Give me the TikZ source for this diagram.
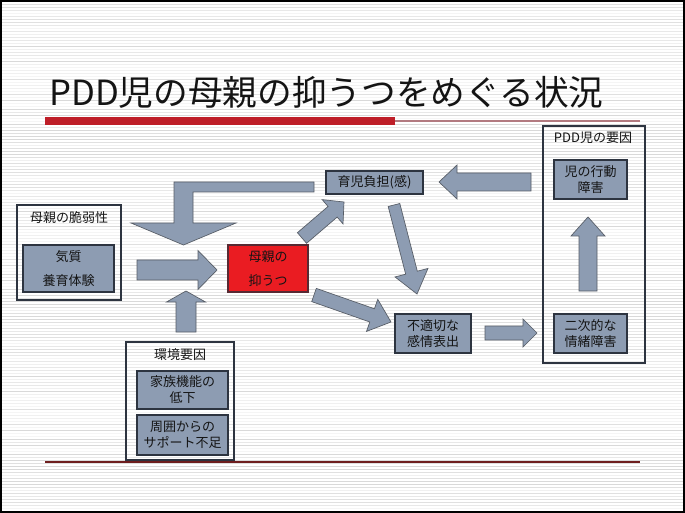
\documentclass[tikz,border=0pt]{standalone}
\usepackage{fontspec}
\setmainfont{Noto Sans CJK JP}
\usetikzlibrary{calc}

\definecolor{boxfill}{RGB}{141,156,178}
\definecolor{edgecol}{RGB}{45,52,64}
\definecolor{redfill}{RGB}{234,28,34}
\definecolor{titlered}{RGB}{190,30,40}
\definecolor{thinred}{RGB}{178,122,128}
\definecolor{linered}{RGB}{110,30,30}
\definecolor{txt}{RGB}{20,20,20}

\tikzset{
  smallfont/.style={font=\fontsize{9.75pt}{12pt}\selectfont, text=txt},
  container/.style={draw=edgecol, line width=0.9pt, rectangle, inner sep=0pt},
  inbox/.style={draw=edgecol, line width=1pt, fill=boxfill, rectangle, inner sep=0pt, align=center, smallfont},
  redbox/.style={draw=edgecol!80!red, line width=1pt, fill=redfill, rectangle, inner sep=0pt, align=center, smallfont},
  boxlabel/.style={smallfont, inner sep=0pt},
  blockarrow/.style={fill=boxfill, draw=edgecol!80, line width=0.5pt, line join=miter}
}

% #1 start, #2 tip, #3 shaft half width, #4 head half width, #5 head length
\newcommand\blockarr[5]{%
  \coordinate (#2-base) at ($(#2)!#5!(#1)$);
  \draw[blockarrow] ($(#1)!#3!90:(#2)$) -- ($(#2-base)!#3!90:(#2)$) -- ($(#2-base)!#4!90:(#2)$)
    -- (#2) -- ($(#2-base)!#4!-90:(#2)$) -- ($(#2-base)!#3!-90:(#2)$) -- ($(#1)!#3!-90:(#2)$) -- cycle;
}

\begin{document}
\begin{tikzpicture}[x=0.75pt, y=-0.75pt]
\useasboundingbox (0,0) rectangle (685,513);
\fill[white] (0,0) rectangle (685,513);
% striped background
\foreach \i in {0,...,170} {
  \pgfmathtruncatemacro\m{mod(\i*7+mod(\i,11)*mod(\i,11),5)}
  \ifcase\m \colorlet{stripe}{black!9}\or \colorlet{stripe}{black!15}\or \colorlet{stripe}{black!6}\or \colorlet{stripe}{black!12}\or \colorlet{stripe}{black!4}\fi
  \draw[stripe, line width=0.75pt] (0,3*\i+1.5) -- (685,3*\i+1.5);
}
\draw[black, line width=1.5pt] (1,1) rectangle (684,512);

% title
\node[anchor=west, inner sep=0pt, text=txt, font=\fontsize{26pt}{30pt}\selectfont] (title) at (49,92) {PDD児の母親の抑うつをめぐる状況};
\fill[titlered] (45,117) rectangle (395,125);
\draw[thinred, line width=1.2pt] (395,121) -- (640,121);
\draw[linered, line width=0.9pt] (45,462) -- (640,462);

% left container
\node[container, minimum width=78pt, minimum height=71.25pt] (vuln) at (69,252.5) {};
\node[boxlabel] (vulnlab) at (69,218) {母親の脆弱性};
\node[inbox, minimum width=68.25pt, minimum height=35.25pt, font=\fontsize{9.75pt}{18pt}\selectfont] (temper) at (68.5,268.5) {気質\\養育体験};

% central red box
\node[redbox, minimum width=60pt, minimum height=35.25pt, font=\fontsize{9.75pt}{18pt}\selectfont] (depr) at (268,268.5) {母親の\\抑うつ};

% burden
\node[inbox, minimum width=72.75pt, minimum height=17.25pt] (burden) at (374.5,182.5) {育児負担(感)};

% improper expression
\node[inbox, minimum width=57pt, minimum height=29.25pt] (improper) at (433,333.5) {不適切な\\感情表出};

% PDD container
\node[container, minimum width=76.5pt, minimum height=177.75pt] (pdd) at (594,244.5) {};
\node[boxlabel] (pddlab) at (593,138) {PDD児の要因};
\node[inbox, minimum width=54.75pt, minimum height=29.25pt] (behav) at (590.5,179.5) {児の行動\\障害};
\node[inbox, minimum width=54.75pt, minimum height=29.25pt] (emot) at (590.5,333.5) {二次的な\\情緒障害};

% environment container
\node[container, minimum width=81pt, minimum height=88.5pt] (env) at (180,401) {};
\node[boxlabel] (envlab) at (180,355) {環境要因};
\node[inbox, minimum width=68.25pt, minimum height=28.5pt] (family) at (182.5,390) {家族機能の\\低下};
\node[inbox, minimum width=68.25pt, minimum height=30pt] (support) at (182.5,435) {周囲からの\\サポート不足};

% arrow end points
\coordinate (a1s) at (531,182);   \coordinate (a1t) at (439,182);
\coordinate (a3s) at (137,270);   \coordinate (a3t) at (217,270);
\coordinate (a4s) at (186,332);   \coordinate (a4t) at (186,291);
\coordinate (a5s) at (302,238);   \coordinate (a5t) at (344,202);
\coordinate (a6s) at (394,205);   \coordinate (a6t) at (417,294);
\coordinate (a7s) at (314,295);   \coordinate (a7t) at (391,322);
\coordinate (a8s) at (485,333);   \coordinate (a8t) at (537,333);
\coordinate (a9s) at (588,291);   \coordinate (a9t) at (588,217);

\blockarr{a1s}{a1t}{6.75pt}{12.75pt}{13.5pt}
\blockarr{a3s}{a3t}{7.5pt}{14.625pt}{14.25pt}
\blockarr{a4s}{a4t}{7.5pt}{14.625pt}{8.25pt}
\blockarr{a5s}{a5t}{5.25pt}{12pt}{11.25pt}
\blockarr{a6s}{a6t}{4.5pt}{12.75pt}{16.5pt}
\blockarr{a7s}{a7t}{5.25pt}{12.75pt}{15pt}
\blockarr{a8s}{a8t}{5.25pt}{10.5pt}{10.5pt}
\blockarr{a9s}{a9t}{6.75pt}{12.75pt}{14.25pt}

% bent arrow from burden back into depression
\draw[blockarrow] (314,182) -- (174,182) -- (174,223) -- (131,223) -- (183.5,245) -- (236,223)
  -- (193,223) -- (193,192) -- (314,192) -- cycle;
\end{tikzpicture}
\end{document}
